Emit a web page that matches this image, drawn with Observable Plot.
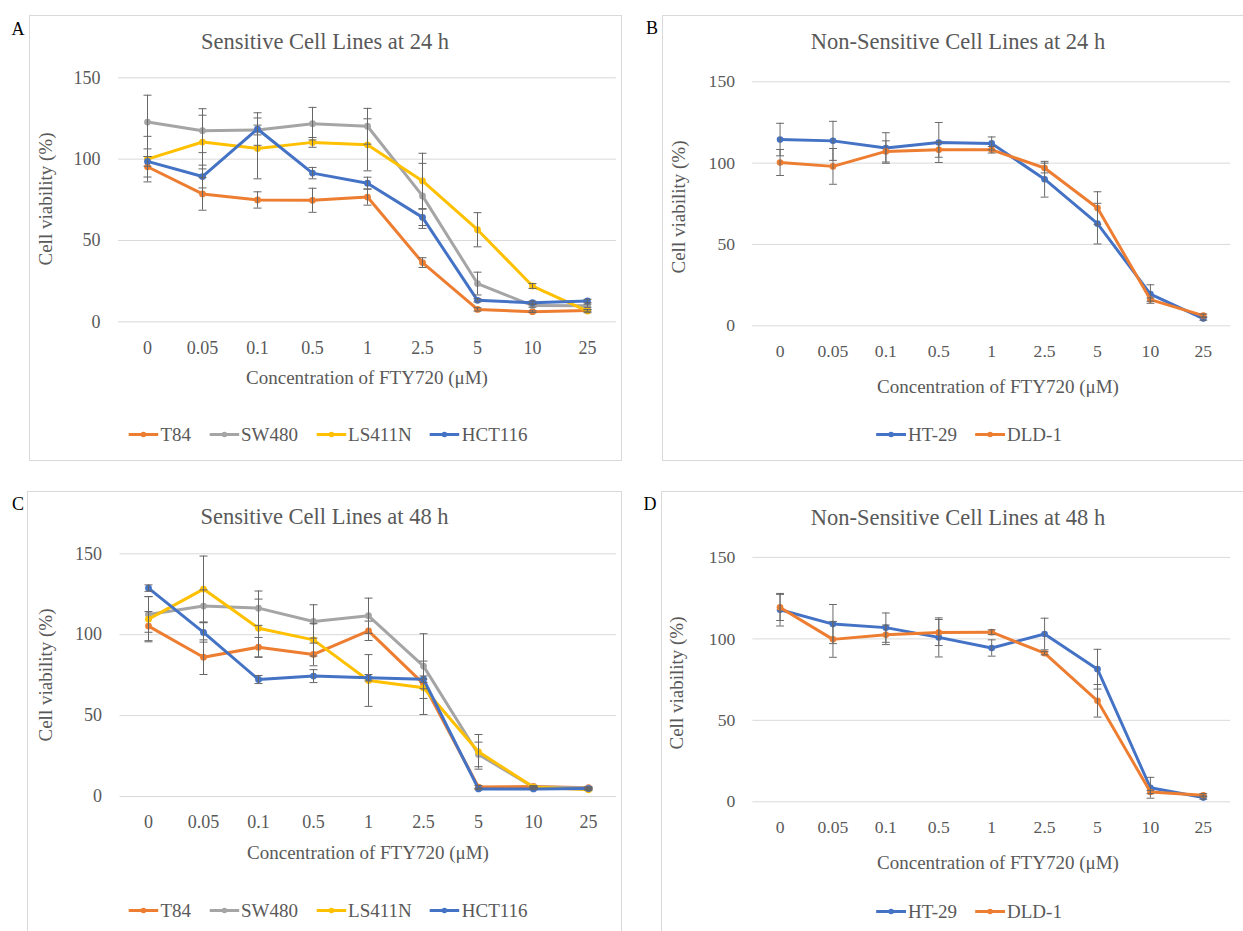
<!DOCTYPE html>
<html>
<head>
<meta charset="utf-8">
<script src="https://cdn.jsdelivr.net/npm/d3@7"></script>
<script src="https://cdn.jsdelivr.net/npm/@observablehq/plot@0.6"></script>
<style>
  html, body { margin: 0; padding: 0; background: #fff; }
  body { width: 1243px; height: 931px; overflow: hidden; font-family: "Liberation Serif", serif; }
  #root { position: relative; width: 1243px; height: 931px; overflow: hidden; }
  .box { position: absolute; border: 1px solid #d9d9d9; box-sizing: border-box; }
  .t { position: absolute; white-space: nowrap; color: #595959; line-height: 1; transform: translate(-50%, -50%); }
  .title { font-size: 22.5px; }
  .axt { font-size: 19px; }
  .yt { transform: translate(-50%, -50%) rotate(-90deg); }
  .letter { position: absolute; font-size: 18px; color: #000; line-height: 1; transform: translate(-50%, -50%); }
  .legend { position: absolute; display: flex; align-items: center; white-space: nowrap; transform: translate(-50%, -50%); font-size: 19px; color: #595959; line-height: 1; }
  .legend .item { display: flex; align-items: center; margin-right: 18px; }
  .legend .item:last-child { margin-right: 0; }
  .legend svg { margin-right: 2px; }
  .plotwrap { position: absolute; }
</style>
</head>
<body>
<div id="root"></div>
<script>
// ---------- data ----------
const concentrations = ["0", "0.05", "0.1", "0.5", "1", "2.5", "5", "10", "25"];
const yTickCount = 3; // 0, 50, 100, 150

// Panel A: Sensitive cell lines, 24 h
const a_T84      = [95.3, 78.6, 74.9, 74.7, 76.7, 36.4, 7.6, 6.2, 7.0];
const a_T84_err  = [6.3, 10, 5, 7.4, 5, 3, 1, 0.5, 0.5];
const a_SW480    = [122.8, 117.5, 117.9, 121.8, 120.2, 77.4, 23.5, 10, 9.9];
const a_SW480_err= [16.5, 13.5, 3, 10, 11, 20, 7, 1, 1];
const a_LS411N   = [100, 110.5, 106.6, 110.3, 108.8, 86.6, 56.6, 22, 6.6];
const a_LS411N_err=[14, 16.5, 18.7, 3, 16, 17, 10.5, 1.5, 1];
const a_HCT116   = [98.6, 89.3, 118.5, 91.4, 85.2, 64.2, 13.2, 11.7, 12.8];
const a_HCT116_err=[3, 7, 10, 3.5, 3.7, 5, 1, 1, 1];

// Panel B: Non-sensitive cell lines, 24 h
const b_HT29     = [114.5, 113.7, 109.3, 112.7, 112.1, 90.1, 62.8, 19.5, 4.4];
const b_HT29_err = [10, 12, 9.4, 12.3, 4, 11, 12.5, 5.7, 1];
const b_DLD1     = [100.4, 98, 107.2, 108.2, 108.2, 97, 72.4, 16.1, 6.2];
const b_DLD1_err = [8, 11, 6.5, 4.6, 2, 3, 10, 1, 1];

// Panel C: Sensitive cell lines, 48 h
const c_T84      = [105.3, 86.1, 92.3, 87.8, 102.4, 69.6, 5.8, 6.2, 5.4];
const c_T84_err  = [9, 10.7, 6, 7, 6, 3, 1, 0.5, 0.5];
const c_SW480    = [112.5, 117.7, 116.4, 108.2, 111.7, 80.6, 26, 5.8, 5.2];
const c_SW480_err= [11, 10, 10.6, 10.3, 10.9, 20, 7.6, 0.5, 0.5];
const c_LS411N   = [109.6, 128.2, 104, 96.8, 71.7, 67.2, 27.6, 5.8, 4.1];
const c_LS411N_err=[14, 20.4, 18, 10, 16, 16.5, 10.7, 0.5, 0.5];
const c_HCT116   = [128.8, 101.4, 72.3, 74.4, 73.4, 72.5, 4.7, 4.7, 4.9];
const c_HCT116_err=[2, 6, 2.5, 4, 2, 2, 0.5, 0.5, 0.5];

// Panel D: Non-sensitive cell lines, 48 h
const d_HT29     = [117.9, 109.1, 106.9, 100.9, 94.4, 103, 81.4, 8.6, 2.6];
const d_HT29_err = [10, 12, 9, 12, 5, 9.7, 12.2, 6.4, 1];
const d_DLD1     = [119.3, 99.7, 102.5, 103.9, 104.1, 91.2, 62, 6, 4];
const d_DLD1_err = [8, 11, 6, 8, 1.5, 1, 10, 1, 1];

const titles = ["Sensitive Cell Lines at 24 h", "Non-Sensitive Cell Lines at 24 h",
                "Sensitive Cell Lines at 48 h", "Non-Sensitive Cell Lines at 48 h"];
const letters = ["A", "B", "C", "D"];
const yLabel = "Cell viability (%)";
const xLabel = "Concentration of FTY720 (\u03bcM)";

// ---------- styles ----------
const COLORS = { orange: "#ED7D31", gray: "#A5A5A5", yellow: "#FFC000", blue: "#4472C4" };

const sensA = [
  { name: "T84", values: a_T84, err: a_T84_err, color: COLORS.orange },
  { name: "SW480", values: a_SW480, err: a_SW480_err, color: COLORS.gray },
  { name: "LS411N", values: a_LS411N, err: a_LS411N_err, color: COLORS.yellow },
  { name: "HCT116", values: a_HCT116, err: a_HCT116_err, color: COLORS.blue }
];
const nonB = [
  { name: "HT-29", values: b_HT29, err: b_HT29_err, color: COLORS.blue },
  { name: "DLD-1", values: b_DLD1, err: b_DLD1_err, color: COLORS.orange }
];
const sensC = [
  { name: "T84", values: c_T84, err: c_T84_err, color: COLORS.orange },
  { name: "SW480", values: c_SW480, err: c_SW480_err, color: COLORS.gray },
  { name: "LS411N", values: c_LS411N, err: c_LS411N_err, color: COLORS.yellow },
  { name: "HCT116", values: c_HCT116, err: c_HCT116_err, color: COLORS.blue }
];
const nonD = [
  { name: "HT-29", values: d_HT29, err: d_HT29_err, color: COLORS.blue },
  { name: "DLD-1", values: d_DLD1, err: d_DLD1_err, color: COLORS.orange }
];

// layout (pixels)
const layout = [
  { letter: [18, 29], box: [29, 15, 593, 446], titleXY: [325, 42],
    svg: { l: 29, t: 15, w: 593, ml: 89, mr: 6, mt: 62.3, ph: 244 },
    ytitle: [45, 199], xtitle: [367, 377], legend: [328, 434], series: sensA },
  { letter: [652, 28], box: [662, 15, 593, 446], titleXY: [958, 42],
    svg: { l: 662, t: 15, w: 593, ml: 92, mr: 13, mt: 67.7, ph: 249 },
    ytitle: [678, 207], xtitle: [998, 386], legend: [969, 434], series: nonB },
  { letter: [18, 504], box: [27, 491, 595, 470], titleXY: [324.5, 517],
    svg: { l: 27, t: 491, w: 595, ml: 92.5, mr: 6, mt: 62.3, ph: 242.7 },
    ytitle: [45, 675], xtitle: [368, 852], legend: [328, 910], series: sensC },
  { letter: [650, 504], box: [661, 491, 594, 470], titleXY: [958, 518],
    svg: { l: 661, t: 491, w: 594, ml: 93.3, mr: 13, mt: 67.3, ph: 249.4 },
    ytitle: [676, 683], xtitle: [998, 862], legend: [969, 911], series: nonD }
];

// error-bar cap: a short horizontal stroke drawn as a custom dot symbol
const capSymbol = { draw(ctx) { ctx.moveTo(-4, 0); ctx.lineTo(4, 0); } };

const root = document.getElementById("root");

function addText(cls, txt, x, y) {
  const d = document.createElement("div");
  d.className = cls;
  d.textContent = txt;
  d.style.left = x + "px";
  d.style.top = y + "px";
  root.appendChild(d);
  return d;
}

function makePlot(series, s) {
  const mb = 40;
  const height = s.mt + s.ph + mb;
  const marks = [Plot.ruleY(d3.ticks(0, 150, yTickCount), { stroke: "#d9d9d9", strokeWidth: 1 })];
  const rowsBy = series.map(se => se.values.map((v, i) => ({
    x: concentrations[i], y: v, lo: v - se.err[i], hi: v + se.err[i]
  })));
  series.forEach((se, k) => {
    marks.push(Plot.line(rowsBy[k], { x: "x", y: "y", stroke: se.color, strokeWidth: 3, strokeLinejoin: "round" }));
    marks.push(Plot.dot(rowsBy[k], { x: "x", y: "y", fill: se.color, r: 3.4 }));
  });
  series.forEach((se, k) => {
    const ebar = { stroke: "#666666", strokeWidth: 1 };
    marks.push(Plot.ruleX(rowsBy[k], { x: "x", y1: "lo", y2: "hi", ...ebar }));
    marks.push(Plot.dot(rowsBy[k], { x: "x", y: "hi", symbol: capSymbol, fill: "none", ...ebar }));
    marks.push(Plot.dot(rowsBy[k], { x: "x", y: "lo", symbol: capSymbol, fill: "none", ...ebar }));
  });
  return Plot.plot({
    width: s.w,
    height: height,
    marginLeft: s.ml,
    marginRight: s.mr,
    marginTop: s.mt,
    marginBottom: mb,
    style: { fontFamily: "'Liberation Serif', serif", fontSize: "18px", color: "#595959", background: "transparent", overflow: "visible" },
    x: { type: "point", domain: concentrations, padding: 0.5, tickSize: 0, tickPadding: 19, label: null },
    y: { domain: [0, 150], ticks: yTickCount, tickSize: 0, tickPadding: 18, label: null },
    marks
  });
}

function legendEl(series, x, y) {
  const lg = document.createElement("div");
  lg.className = "legend";
  lg.style.left = x + "px";
  lg.style.top = y + "px";
  series.forEach(se => {
    const it = document.createElement("div");
    it.className = "item";
    it.innerHTML = `<svg width="30" height="10" viewBox="0 0 30 10"><line x1="0" y1="5" x2="30" y2="5" stroke="${se.color}" stroke-width="3"/><circle cx="15" cy="5" r="2.8" fill="${se.color}"/></svg><span>${se.name}</span>`;
    lg.appendChild(it);
  });
  root.appendChild(lg);
}

layout.forEach((p, i) => {
  const b = document.createElement("div");
  b.className = "box";
  b.style.left = p.box[0] + "px"; b.style.top = p.box[1] + "px";
  b.style.width = p.box[2] + "px"; b.style.height = p.box[3] + "px";
  root.appendChild(b);

  const w = document.createElement("div");
  w.className = "plotwrap";
  w.style.left = p.svg.l + "px"; w.style.top = p.svg.t + "px";
  w.appendChild(makePlot(p.series, p.svg));
  root.appendChild(w);

  addText("letter", letters[i], p.letter[0], p.letter[1]);
  addText("t title", titles[i], p.titleXY[0], p.titleXY[1]);
  addText("t axt yt", yLabel, p.ytitle[0], p.ytitle[1]);
  addText("t axt", xLabel, p.xtitle[0], p.xtitle[1]);
  legendEl(p.series, p.legend[0], p.legend[1]);
});
</script>
</body>
</html>
